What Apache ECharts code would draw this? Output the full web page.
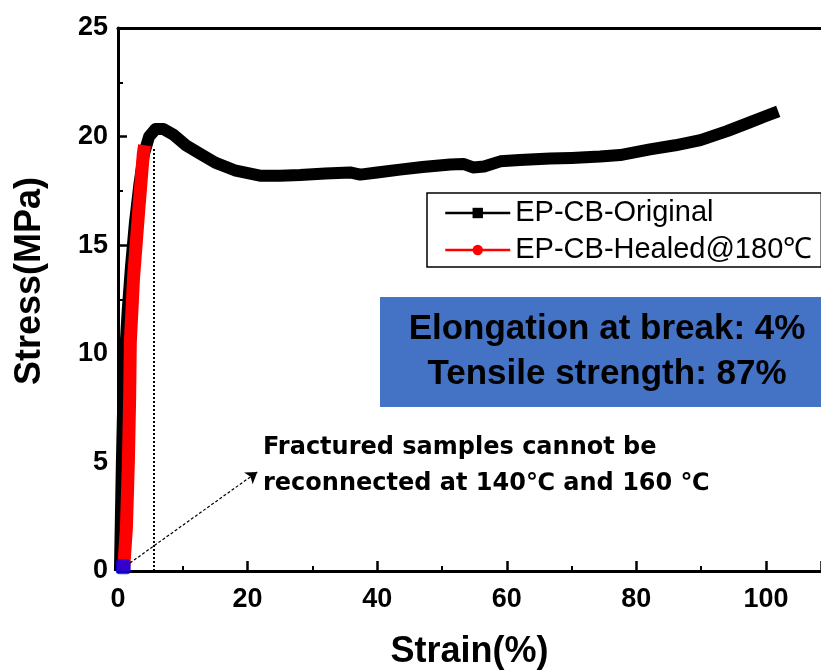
<!DOCTYPE html>
<html>
<head>
<meta charset="utf-8">
<script src="https://cdn.jsdelivr.net/npm/echarts@6/dist/echarts.min.js"></script>
<style>html,body{margin:0;padding:0;background:#fff;}#main{width:821px;height:670px;}</style>
</head>
<body>
<div id="main"></div>
<script>
// ---- data ----
const seriesNames = ['EP-CB-Original', 'EP-CB-Healed@180\u2103'];
const originalData = [
  [0.3,0],[0.6,5],[0.9,9],[1.5,12],[2.0,14],[2.6,16],[3.3,17.8],[4.0,19.2],[4.8,20.0],
  [5.8,20.35],[7.0,20.35],[8.5,20.1],[10.5,19.6],[12.7,19.2],[15,18.8],[18,18.45],
  [21.9,18.2],[25,18.2],[28.1,18.23],[32,18.3],[35.8,18.35],[37.4,18.25],[40,18.35],
  [43.5,18.48],[47,18.6],[51.3,18.72],[53.3,18.74],[54.8,18.58],[56.5,18.62],[59,18.86],
  [62,18.92],[66.7,18.99],[70,19.02],[74.4,19.08],[77.5,19.15],[82.1,19.41],[86,19.6],
  [89.9,19.84],[94,20.25],[97.6,20.67],[100,20.95],[101.9,21.16]
];
const healedData = [
  [0.85,0],[1.3,2],[1.6,5],[1.8,8],[1.9,10.5],[2.4,13.5],[3.2,16.6],[3.9,19.2],[4.1,19.6]
];
const failedPoint = [[0.8,0.2]];
const dropLine = [[5.45,0],[5.45,19.5]];
const arrowLine = [[1.85,0.37],[21.5,4.56]];
const xTicks = [0, 108.5, 20];   // min, visible max (frame continues past the crop), interval
const yTicks = [0, 25, 5];
const annotationText = 'Fractured samples cannot be\nreconnected at 140\u2103 and 160 \u2103';
const boxText = 'Elongation at break: 4%\nTensile strength: 87%';
const xTitle = 'Strain(%)';
const yTitle = 'Stress(MPa)';

const chart = echarts.init(document.getElementById('main'), null, {renderer: 'canvas'});
const FF = '"Liberation Sans", Arial, sans-serif';

const option = {
  animation: false,
  backgroundColor: '#fff',
  grid: {left: 118, top: 28, right: 0, bottom: 99, show: false, outerBoundsMode: 'none', containLabel: false},
  legend: {
    data: seriesNames,
    orient: 'vertical',
    left: 427, top: 193,
    itemWidth: 65, itemHeight: 13, itemGap: 7,
    padding: [5, 9, 2, 17],
    borderColor: '#000', borderWidth: 1.5,
    backgroundColor: '#fff',
    textStyle: {fontFamily: FF, fontSize: 29, color: '#000', lineHeight: 30},
    lineStyle: {width: 2.5}
  },
  xAxis: [
    {
      type: 'value', min: xTicks[0], max: xTicks[1], interval: xTicks[2],
      name: xTitle, nameLocation: 'middle', nameGap: 63,
      nameTextStyle: {fontFamily: FF, fontSize: 36, fontWeight: 'bold', color: '#000'},
      axisLine: {show: true, onZero: false, lineStyle: {color: '#000', width: 3}},
      axisTick: {show: true, inside: true, length: 10, lineStyle: {color: '#000', width: 2.5}},
      minorTick: {show: true, splitNumber: 2, length: 5, lineStyle: {color: '#000', width: 2}},
      axisLabel: {fontFamily: FF, fontSize: 27, fontWeight: 'bold', color: '#000', margin: 15, showMaxLabel: false},
      splitLine: {show: false}
    },
    {
      type: 'value', position: 'top', min: xTicks[0], max: xTicks[1], interval: xTicks[2],
      axisLine: {show: true, onZero: false, lineStyle: {color: '#000', width: 3}},
      axisTick: {show: false}, minorTick: {show: false}, axisLabel: {show: false},
      splitLine: {show: false}
    }
  ],
  yAxis: {
    type: 'value', min: yTicks[0], max: yTicks[1], interval: yTicks[2],
    axisLine: {show: true, onZero: false, lineStyle: {color: '#000', width: 3}},
    axisTick: {show: true, inside: true, length: 9, lineStyle: {color: '#000', width: 2.5}},
    minorTick: {show: true, splitNumber: 2, length: 5, lineStyle: {color: '#000', width: 2}},
    axisLabel: {fontFamily: FF, fontSize: 27, fontWeight: 'bold', color: '#000', margin: 10},
    splitLine: {show: false}
  },
  series: [
    {
      name: seriesNames[0], type: 'line', data: originalData,
      symbol: 'rect', showSymbol: false, color: '#000',
      lineStyle: {color: '#000', width: 12, join: 'round'},
      itemStyle: {color: '#000'},
      markLine: {
        silent: true, symbol: ['none', 'none'], label: {show: false},
        lineStyle: {color: '#000', type: 'dotted', width: 2},
        data: [[{coord: dropLine[0]}, {coord: dropLine[1]}]]
      },
      z: 2
    },
    {
      name: seriesNames[1], type: 'line', data: healedData,
      symbol: 'circle', showSymbol: false, color: '#ff0000',
      lineStyle: {color: '#ff0000', width: 13, join: 'round'},
      itemStyle: {color: '#ff0000'},
      z: 3
    },
    {
      name: 'failed', type: 'scatter', data: failedPoint,
      symbol: 'roundRect', symbolSize: 15, clip: false,
      itemStyle: {color: '#0000ff'},
      markLine: {
        silent: true, symbol: ['none', 'arrow'], symbolSize: 11, label: {show: false},
        lineStyle: {color: '#000', type: [3, 2], width: 1.2},
        data: [[{coord: arrowLine[0]}, {coord: arrowLine[1]}]]
      },
      z: 4
    }
  ],
  graphic: [
    {
      type: 'text', x: 30, y: 281, rotation: Math.PI / 2,
      style: {text: yTitle, fontFamily: FF, fontSize: 36, fontWeight: 'bold', fill: '#000',
        align: 'center', verticalAlign: 'middle'}
    },
    {
      type: 'text', x: 263, y: 430,
      style: {text: annotationText, fontFamily: '"DejaVu Sans", sans-serif', fontSize: 24, fontWeight: 'bold',
        fill: '#000', lineHeight: 36, align: 'left', verticalAlign: 'top'}
    },
    {
      type: 'rect', shape: {x: 380, y: 297, width: 470, height: 110},
      style: {fill: '#4472C4'}, z: 10
    },
    {
      type: 'text', x: 607, y: 307, z: 11,
      style: {text: boxText, fontFamily: FF, fontSize: 35, fontWeight: 'bold', fill: '#000',
        lineHeight: 45, align: 'center', verticalAlign: 'top'}
    }
  ]
};
chart.setOption(option);
</script>
</body>
</html>
